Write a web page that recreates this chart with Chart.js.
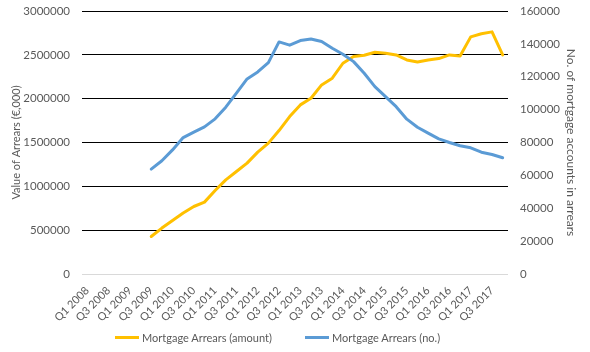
<!DOCTYPE html>
<html>
<head>
<meta charset="utf-8">
<script src="https://cdn.jsdelivr.net/npm/chart.js@4/dist/chart.umd.min.js"></script>
<style>
  html, body { margin: 0; padding: 0; background: #fff; }
  #wrap { position: relative; width: 590px; height: 352px; }
  #legend { position: absolute; top: 331px; left: 0; width: 590px; height: 16px; font-family: Lato, "Open Sans", sans-serif; font-size: 11px; color: #595959; }
  .item { position: absolute; top: 0; display: flex; align-items: center; white-space: nowrap; }
  .sw { width: 24px; height: 3px; margin-right: 3px; }
</style>
</head>
<body>
<div id="wrap">
  <canvas id="c" width="590" height="352"></canvas>
  <div id="legend"></div>
</div>
<script>
const categories = [
  "Q1 2008","Q2 2008","Q3 2008","Q4 2008",
  "Q1 2009","Q2 2009","Q3 2009","Q4 2009",
  "Q1 2010","Q2 2010","Q3 2010","Q4 2010",
  "Q1 2011","Q2 2011","Q3 2011","Q4 2011",
  "Q1 2012","Q2 2012","Q3 2012","Q4 2012",
  "Q1 2013","Q2 2013","Q3 2013","Q4 2013",
  "Q1 2014","Q2 2014","Q3 2014","Q4 2014",
  "Q1 2015","Q2 2015","Q3 2015","Q4 2015",
  "Q1 2016","Q2 2016","Q3 2016","Q4 2016",
  "Q1 2017","Q2 2017","Q3 2017","Q4 2017"
];
const arrearsAmount = [
  null, null, null, null, null, null,
  428000, 524000, 611000, 695000, 770000, 820000,
  952000, 1074000, 1169000, 1265000, 1390000, 1493000,
  1636000, 1796000, 1929000, 2005000, 2157000, 2233000,
  2404000, 2480000, 2495000, 2530000, 2518000, 2499000,
  2442000, 2419000, 2442000, 2457000, 2499000, 2487000,
  2705000, 2740000, 2762000, 2499000
];
const arrearsNumber = [
  null, null, null, null, null, null,
  63800, 68900, 75500, 83000, 86300, 89500,
  94400, 101500, 110000, 118700, 122900, 128600,
  141200, 139200, 142000, 143000, 141400, 137300,
  133700, 129200, 122100, 114000, 107900, 101800,
  94200, 89300, 85700, 82200, 80000, 78000,
  76800, 74100, 72700, 70700
];
const leftTicks = { min: 0, max: 3000000, step: 500000 };
const rightTicks = { min: 0, max: 160000, step: 20000 };
const seriesNames = ["Mortgage Arrears (amount)", "Mortgage Arrears (no.)"];
const seriesColors = ["#FFC000", "#5B9BD5"];

const FONT = { family: "Lato, 'Open Sans', sans-serif", size: 11.5 };
const TXT = "#595959";
const plain = function(v) { return String(v); };
const fixV = function(s) { s.width = 82; s.paddingTop = 4; s.paddingBottom = 4; };

new Chart(document.getElementById("c"), {
  type: "line",
  data: {
    labels: categories,
    datasets: [
      { label: seriesNames[0], data: arrearsAmount, yAxisID: "y", borderColor: seriesColors[0], backgroundColor: seriesColors[0], borderWidth: 3, pointRadius: 0, tension: 0, borderJoinStyle: "round", borderCapStyle: "round", order: 2 },
      { label: seriesNames[1], data: arrearsNumber, yAxisID: "y1", borderColor: seriesColors[1], backgroundColor: seriesColors[1], borderWidth: 3, pointRadius: 0, tension: 0, borderJoinStyle: "round", borderCapStyle: "round", order: 1 }
    ]
  },
  options: {
    responsive: false,
    animation: false,
    layout: { padding: { top: 11, bottom: 26, left: 0, right: 0 } },
    plugins: { legend: { display: false }, tooltip: { enabled: false } },
    scales: {
      x: {
        offset: true,
        grid: { display: false },
        border: { display: false },
        ticks: {
          autoSkip: false, maxRotation: 45, minRotation: 45, padding: 2,
          color: TXT, font: { family: FONT.family, size: 11 },
          callback: function(v, i) { return i % 2 === 0 ? categories[i] : ""; }
        },
        afterFit: function(s) { s.height = 52; s.paddingLeft = 0; s.paddingRight = 0; }
      },
      y: {
        position: "left",
        min: leftTicks.min, max: leftTicks.max,
        grid: { color: function(c) { return c.tick && c.tick.value === 0 ? "#d9d9d9" : "#000000"; }, lineWidth: 1, drawTicks: false },
        border: { display: false },
        ticks: { stepSize: leftTicks.step, color: TXT, font: FONT, padding: 12, callback: plain },
        title: { display: true, text: "Value of Arrears (€,000)", color: TXT, font: { family: FONT.family, size: 11 }, padding: { top: 10, bottom: 0 } },
        afterFit: fixV
      },
      y1: {
        position: "right",
        min: rightTicks.min, max: rightTicks.max,
        grid: { display: false, drawTicks: false },
        border: { display: false },
        ticks: { stepSize: rightTicks.step, color: TXT, font: FONT, padding: 12, callback: plain },
        title: { display: true, text: "No. of mortgage accounts in arrears", color: TXT, font: { family: FONT.family, size: 12 }, padding: { top: 12, bottom: 0 } },
        afterFit: fixV
      }
    }
  }
});

const lg = document.getElementById("legend");
const lefts = [115, 305];
seriesNames.forEach(function(n, i) {
  const it = document.createElement("div");
  it.className = "item";
  it.style.left = lefts[i] + "px";
  const sw = document.createElement("span");
  sw.className = "sw";
  sw.style.background = seriesColors[i];
  const t = document.createElement("span");
  t.textContent = n;
  it.appendChild(sw); it.appendChild(t);
  lg.appendChild(it);
});
</script>
</body>
</html>
